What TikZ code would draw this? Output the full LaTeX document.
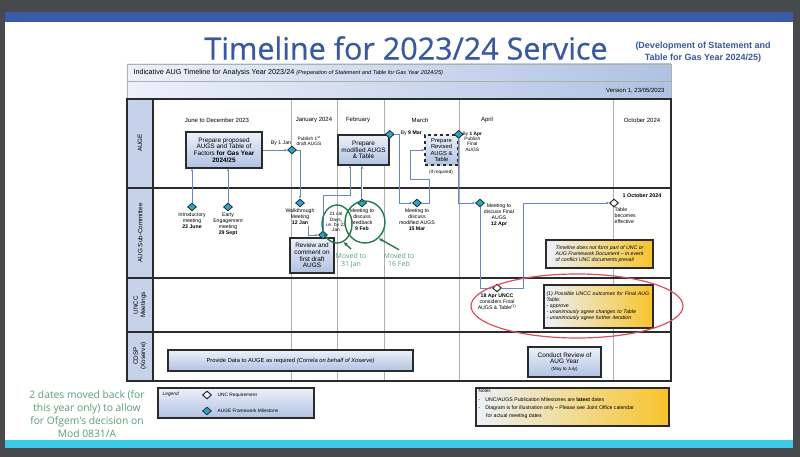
\documentclass[tikz,border=0pt]{standalone}
\usepackage{fontspec}
\setmainfont{Liberation Sans}
\newfontfamily\slidefont{Open Sans}
\newfontfamily\titlefont{Open Sans}[FakeBold=0.6]
\usepackage{tikz}
\usetikzlibrary{positioning,shapes.geometric,arrows.meta,shadows}
\definecolor{augframe}{RGB}{72,73,76}
\definecolor{augband}{RGB}{58,91,168}
\definecolor{augcyan}{RGB}{62,200,232}
\definecolor{augtitle}{RGB}{56,88,160}
\definecolor{augboxtop}{RGB}{236,241,250}
\definecolor{augboxbot}{RGB}{176,194,226}
\definecolor{auglane}{RGB}{197,210,234}
\definecolor{auglink}{RGB}{104,136,196}
\definecolor{augmile}{RGB}{38,166,206}
\definecolor{augyellow}{RGB}{248,196,44}
\definecolor{auggreen}{RGB}{38,122,76}
\definecolor{augmoved}{RGB}{90,158,120}
\definecolor{augred}{RGB}{216,80,96}
\definecolor{augline}{RGB}{43,43,43}
\definecolor{augmonth}{RGB}{175,175,175}

\begin{document}
\begin{tikzpicture}[
    x=1pt, y=-1pt,
    task/.style={rectangle, draw=augline, line width=1.3pt, top color=augboxtop, bottom color=augboxbot, align=center, inner sep=1pt, font=\fontsize{6.4}{6.8}\selectfont, drop shadow={shadow xshift=1.2pt, shadow yshift=-1.2pt, opacity=0.3}},
    note/.style={rectangle, draw=augline, line width=1.1pt, left color=augboxtop, right color=augyellow, align=left, inner sep=2pt, font=\fontsize{5.2}{6}\selectfont\itshape, drop shadow={shadow xshift=1.2pt, shadow yshift=-1.2pt, opacity=0.3}},
    augms/.style={diamond, draw=augline, line width=0.8pt, fill=augmile, minimum width=9pt, minimum height=8pt, inner sep=0pt},
    uncms/.style={augms, fill=white, line width=1pt},
    small/.style={align=center, font=\fontsize{5.2}{6}\selectfont, inner sep=0.5pt},
    month/.style={font=\fontsize{6}{7}\selectfont},
    lane/.style={rotate=90, align=center, font=\fontsize{6.3}{7.2}\selectfont},
    arrow/.style={-{Latex[length=2.6pt,width=2.6pt]}, auglink, line width=0.7pt},
    dblarrow/.style={-{Latex[open,length=3pt,width=3pt]}, draw=auglink, double=white, double distance=0.9pt, line width=0.6pt},
    moved/.style={align=center, text=augmoved, font=\slidefont\fontsize{7}{8}\selectfont},
    ring/.style={ellipse, draw=auggreen, line width=1.4pt, inner sep=0pt},
    greenarrow/.style={-{Latex[length=4pt,width=4pt]}, auggreen, line width=1.4pt}
]
\useasboundingbox (0,0) rectangle (800,457);

% Slide
\fill[augframe] (0,0) rectangle (800,457);
\fill[white] (5,22) rectangle (793,440);
\fill[augband] (5,12) rectangle (793,22);
\fill[augcyan] (5,440) rectangle (793,448);

\node[text=augtitle, font=\titlefont\fontsize{30.5}{33}\selectfont] (title) at (406,48) {Timeline for 2023/24 Service};
\node[text=augtitle, align=center, font=\bfseries\fontsize{9}{12}\selectfont] (subtitle) at (703,52) {(Development of Statement and\\Table for Gas Year 2024/25)};

% Table header
\shade[left color=augboxtop, right color=augboxbot] (127,64) rectangle (671,99);
\draw[augmonth, line width=0.5pt] (127,64) rectangle (671,99);
\draw[augmonth, line width=0.5pt] (127,81) -- (671,81);
\node[anchor=west, font=\fontsize{7.2}{8}\selectfont] (hdr) at (130,73) {Indicative AUG Timeline for Analysis Year 2023/24 {\fontsize{5.6}{6}\selectfont\itshape (Preparation of Statement and Table for Gas Year 2024/25)}};
\node[anchor=east, font=\fontsize{6}{7}\selectfont] (ver) at (668,91) {Version 1, 23/05/2023};

% Swim lanes
\fill[auglane] (127,99) rectangle (153,381);
\foreach \mx in {291,337,384,459,613}
    \draw[augmonth, line width=0.5pt] (\mx,100) -- (\mx,381);
\foreach \ry in {188,278,332}
    \draw[augline, line width=1.3pt] (127,\ry) -- (671,\ry);
\draw[augline, line width=1.3pt] (153,99) -- (153,381);
\draw[augline, line width=1.5pt] (127,99) rectangle (671,381);

\node[lane] (laugE) at (140,143) {AUGE};
\node[lane] (lsub) at (140,233) {AUG Sub-Committee};
\node[lane] (luncc) at (140,305) {UNCC\\Meetings};
\node[lane] (lcdsp) at (140,356) {CDSP\\(Xoserve)};

% Months
\node[month] (mjun) at (217,120) {June to December 2023};
\node[month] (mjan) at (314,120) {January 2024};
\node[month] (mfeb) at (358,120) {February};
\node[month] (mmar) at (420,120) {March};
\node[month] (mapr) at (487,120) {April};
\node[month] (moct) at (642,120) {October 2024};

% Row 1: AUGE
\node[task, minimum width=76pt, minimum height=36pt] (prop) at (224,150) {Prepare proposed\\AUGS and Table of\\Factors \textbf{for Gas Year}\\\textbf{2024/25}};
\node[small] (by1jan) at (281,143) {By 1 Jan};
\node[augms] (d1jan) at (292,150) {};
\node[small, font=\fontsize{4.8}{5.6}\selectfont] (pub1) at (309,141) {Publish 1\textsuperscript{st}\\draft AUGS};
\node[task, minimum width=51pt, minimum height=30pt] (mod) at (363.5,150) {Prepare\\modified AUGS\\\& Table};
\node[augms] (d9mar) at (mod.north east) {};
\node[small, anchor=west] (by9mar) at (400,133) {By \textbf{9 Mar}};
\node[task, dashed, minimum width=33pt, minimum height=30pt, font=\fontsize{5.8}{6.6}\selectfont] (rev) at (441.5,150) {Prepare\\Revised\\AUGS \&\\Table};
\node[small, font=\fontsize{4.6}{5}\selectfont] (ifreq) at (441,172) {(If required)};
\node[augms] (d1apr) at (rev.north east) {};
\node[small, anchor=north west, font=\fontsize{4.8}{5.4}\selectfont] (by1apr) at (462,131) {By \textbf{1 Apr}\\Publish\\Final\\AUGS};

% Row 2: AUG Sub-Committee
\node[augms] (d23jun) at (192,207) {};
\node[small, below=1pt of d23jun] (l23jun) {Introductory\\meeting\\\textbf{23 June}};
\node[augms] (d29sep) at (228,207) {};
\node[small, below=1pt of d29sep] (l29sep) {Early\\Engagement\\meeting\\\textbf{29 Sept}};
\node[augms] (dwalk) at (300,203) {};
\node[small, below=1pt of dwalk] (lwalk) {Walkthrough\\Meeting\\\textbf{12 Jan}};
\node[task, minimum width=44pt, minimum height=35pt] (review) at (312,255.5) {Review and\\comment on\\first draft\\AUGS};
\node[small, font=\fontsize{4.8}{5.4}\selectfont] (l22jan) at (336,222) {21 cal\\Days,\\i.e. by 22\\Jan};
\node[augms] (d22jan) at (323,235) {};
\node[augms] (d9feb) at (362,203) {};
\node[small, below=1pt of d9feb] (l9feb) {Meeting to\\discuss\\feedback\\\textbf{9 Feb}};
\node[augms] (d15mar) at (417,203) {};
\node[small, below=1pt of d15mar] (l15mar) {Meeting to\\discuss\\modified AUGS\\\textbf{15 Mar}};
\node[augms] (d12apr) at (480,203) {};
\node[small] (l12apr) at (499,215) {Meeting to\\discuss Final\\AUGS\\\textbf{12 Apr}};
\node[uncms] (doct) at (614,203) {};
\node[small, font=\bfseries\fontsize{5.4}{6}\selectfont] (loctd) at (642,196) {1 October 2024};
\node[small, align=left, anchor=north west] (loct) at (614,207) {Table\\becomes\\effective};
\node[note, minimum width=107pt, minimum height=28pt] (notunc) at (599.5,254) {Timeline does not form part of UNC or\\AUG Framework Document -- in event\\of conflict UNC documents prevail};

% Row 3: UNCC Meetings
\node[uncms] (d18apr) at (497,288) {};
\node[small, below=1pt of d18apr] (l18apr) {\textbf{18 Apr UNCC}\\considers Final\\AUGS \& Table\textsuperscript{(1)}};
\node[note, right color=augyellow, minimum width=109pt, minimum height=43pt, text width=104pt] (outcome) at (598.5,306.5) {(1) Possible UNCC outcomes for Final AUG Table:\\- approve\\- unanimously agree changes to Table\\- unanimously agree further iteration};

% Row 4: CDSP
\node[task, minimum width=245pt, minimum height=21pt, font=\fontsize{5.8}{6.6}\selectfont] (data) at (290.5,360.5) {Provide Data to AUGE as required \textit{(Correla on behalf of Xoserve)}};
\node[task, minimum width=73pt, minimum height=30pt] (augrev) at (564.5,362) {Conduct Review of\\AUG Year\\{\fontsize{4.6}{5.4}\selectfont(May to July)}};

% Connections
\draw[arrow] (prop.east) -- (d1jan.west);
\draw[arrow] (d1jan.east) -| (dwalk.north);
\draw[arrow] (d23jun.north) -- (d23jun.north |- prop.south);
\draw[arrow] (d29sep.north) -- (d29sep.north |- prop.south);
\draw[arrow] ([xshift=8pt]lwalk.south) |- (d22jan.west);
\draw[arrow] (d22jan.north) -- (323,195) -| ([xshift=-13.5pt]mod.south);
\draw[dblarrow] (d9feb.north) -- (d9feb.north |- mod.south);
\draw[arrow] (d9mar.east) -- ++(5,0) |- (d15mar.west);
\draw[arrow] (d15mar.east) -| (429,179) -- (410,179) |- (rev.west);
\draw[arrow] (d1apr.south) |- (d12apr.west);
\draw[arrow] (d12apr.south) |- (d18apr.west);
\draw[arrow] (d18apr.east) -- (523,288) |- (doct.west);

% Moved dates
\node[ring, minimum width=30pt, minimum height=38pt] (ringA) at (337,224) {};
\node[ring, minimum width=40pt, minimum height=42pt] (ringB) at (365,222) {};
\node[moved] (mv31) at (351,260) {Moved to\\31 Jan};
\node[moved] (mv16) at (399,260) {Moved to\\16 Feb};
\draw[greenarrow] (mv31.north) -- (ringA.-70);
\draw[greenarrow] (mv16.north) -- (ringB.-50);
\node[ellipse, draw=augred, line width=1.2pt, minimum width=212pt, minimum height=64pt] (redring) at (577,306) {};

% Legend and notes
\node[rectangle, draw=augline, line width=1.1pt, top color=augboxtop, bottom color=augboxbot, minimum width=156pt, minimum height=30pt, drop shadow={shadow xshift=1.2pt, shadow yshift=-1.2pt, opacity=0.3}] (legend) at (236,403) {};
\node[small, anchor=west, font=\fontsize{4.8}{5.4}\selectfont\itshape] (lgtitle) at (162,394) {Legend};
\node[uncms] (lgunc) at (207,395) {};
\node[small, right=5pt of lgunc, font=\fontsize{4.8}{5.4}\selectfont] (lgunct) {UNC Requirement};
\node[augms] (lgaug) at (207,411) {};
\node[small, right=5pt of lgaug, font=\fontsize{4.8}{5.4}\selectfont] (lgaugt) {AUGE Framework Milestone};
\node[note, minimum width=193pt, minimum height=38pt] (notes) at (572.5,407) {};
\node[small, anchor=north west, align=left, font=\fontsize{5.2}{8.2}\selectfont] (notest) at (478,389) {{\fontsize{4.6}{5}\selectfont Notes}\\-\hspace{5pt}UNC/AUGS Publication Milestones are \textbf{latest} dates\\-\hspace{5pt}Diagram is for illustration only -- Please see Joint Office calendar\\\hspace{7.5pt}for actual meeting dates};

\node[moved, font=\slidefont\fontsize{10.3}{13}\selectfont] (movedback) at (87,414) {2 dates moved back (for\\this year only) to allow\\for Ofgem's decision on\\Mod 0831/A};

\end{tikzpicture}
\end{document}
